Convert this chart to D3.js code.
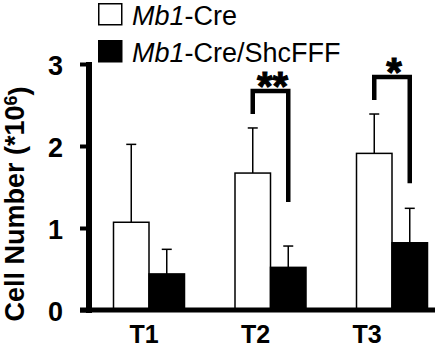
<!DOCTYPE html>
<html lang="en">
<head>
    <meta charset="UTF-8">
    <title>Cell Number T1-T3</title>
    <script src="https://d3js.org/d3.v7.min.js"></script>
    <style>
        body { margin: 0; background: #fff; }
        svg { display: block; font-family: "Liberation Sans", Arial, Helvetica, sans-serif; }
        .axis-label { font-weight: bold; font-size: 26px; fill: #000; }
        .legend-text { font-size: 27px; fill: #000; }
    </style>
</head>
<body>

<svg width="440" height="349"></svg>

<script>
    // data (cell number, *10^6)
    const categories = ["T1", "T2", "T3"];
    const series = ["Mb1-Cre", "Mb1-Cre/ShcFFF"];
    const ctrlMean = [1.07, 1.67, 1.91];
    const ctrlSd = [0.95, 0.55, 0.48];
    const mutMean = [0.44, 0.52, 0.82];
    const mutSd = [0.30, 0.26, 0.42];
    const yTicks = [0, 1, 2, 3];
    const signif = [null, "**", "*"];

    const svg = d3.select("svg");

    const y = d3.scaleLinear().domain([0, 3]).range([310, 64]);
    // group centres and bar offsets inside a group
    const xGroup = d3.scalePoint().domain(categories).range([149, 392]);
    const xBar = d3.scaleBand().domain(series).range([-35.5, 35.5]);
    // tick labels sit a little off the group centres in the original
    const xLabel = d3.scalePoint().domain(categories).range([144, 367]);

    const rows = categories.map((c, i) => [
        {cat: c, s: series[0], mean: ctrlMean[i], sd: ctrlSd[i]},
        {cat: c, s: series[1], mean: mutMean[i], sd: mutSd[i]}
    ]).flat();

    // y axis
    const yAxis = svg.append("g")
        .attr("transform", "translate(89,0)")
        .call(d3.axisLeft(y).tickValues(yTicks).tickFormat(d3.format("d"))
            .tickSizeInner(9).tickSizeOuter(0).tickPadding(17));
    yAxis.select(".domain").attr("stroke", "#000").attr("stroke-width", 6)
        .attr("d", `M0,${y(3) - 2}V${y(0) + 3}`);
    yAxis.selectAll(".tick line").attr("stroke", "#000").attr("stroke-width", 4);
    yAxis.selectAll(".tick text")
        .attr("class", "axis-label")
        .style("font-size", "27px")
        .attr("dy", "0.38em");

    // bars
    svg.append("g").selectAll("rect")
        .data(rows)
        .join("rect")
        .attr("x", d => xGroup(d.cat) + xBar(d.s))
        .attr("y", d => y(d.mean))
        .attr("width", xBar.bandwidth())
        .attr("height", d => y(0) - y(d.mean))
        .attr("fill", d => d.s === series[0] ? "#fff" : "#000")
        .attr("stroke", "#000")
        .attr("stroke-width", 1.5);

    // upper error bars
    const err = svg.append("g").attr("stroke", "#000").attr("stroke-width", 1.5);
    const bx = d => xGroup(d.cat) + xBar(d.s) + xBar.bandwidth() / 2;
    err.selectAll("line.v").data(rows).join("line").attr("class", "v")
        .attr("x1", bx).attr("x2", bx)
        .attr("y1", d => y(d.mean)).attr("y2", d => y(d.mean + d.sd));
    err.selectAll("line.cap").data(rows).join("line").attr("class", "cap")
        .attr("x1", d => bx(d) - 5).attr("x2", d => bx(d) + 5)
        .attr("y1", d => y(d.mean + d.sd)).attr("y2", d => y(d.mean + d.sd));

    // x axis baseline
    svg.append("line")
        .attr("x1", 80).attr("x2", 435)
        .attr("y1", y(0)).attr("y2", y(0))
        .attr("stroke", "#000").attr("stroke-width", 5);

    svg.append("g").selectAll("text")
        .data(categories)
        .join("text")
        .attr("class", "axis-label")
        .style("font-size", "25px")
        .attr("x", d => xLabel(d))
        .attr("y", 343)
        .attr("text-anchor", "middle")
        .text(d => d);

    // significance brackets
    const sig = categories.map((c, i) => ({cat: c, mark: signif[i], i}))
        .filter(d => d.mark);
    sig.forEach(d => {
        const i = d.i;
        const xl = xGroup(d.cat) + xBar(series[0]) + xBar.bandwidth() / 2;
        const xr = xGroup(d.cat) + xBar(series[1]) + xBar.bandwidth() / 2;
        const top = y(ctrlMean[i] + ctrlSd[i]) - 37;
        const leftEnd = y(ctrlMean[i] + ctrlSd[i]) - 14;
        const rightEnd = y(mutMean[i] + mutSd[i]) - (i === 1 ? 44 : 25);
        svg.append("path")
            .attr("d", `M${xl},${leftEnd}V${top}H${xr}V${rightEnd}`)
            .attr("fill", "none")
            .attr("stroke", "#000")
            .attr("stroke-width", 4.5);
        svg.append("text")
            .attr("x", (xl + xr) / 2 + 2)
            .attr("y", top + 9)
            .attr("text-anchor", "middle")
            .style("font-weight", "bold")
            .style("font-size", "40px")
            .attr("stroke", "#000")
            .attr("stroke-width", 1)
            .text(d.mark);
    });

    // y axis title
    const title = svg.append("text")
        .attr("class", "axis-label")
        .attr("transform", "translate(24,204) rotate(-90)")
        .attr("text-anchor", "middle")
        .style("font-size", "27px");
    title.append("tspan").text("Cell Number (*10");
    title.append("tspan").attr("dy", "-0.4em").style("font-size", "18px").text("6");
    title.append("tspan").attr("dy", "0.4em").text(")");

    // legend
    const legend = svg.append("g").selectAll("g")
        .data(series)
        .join("g")
        .attr("transform", (d, i) => `translate(98,${3 + i * 37})`);
    legend.append("rect")
        .attr("x", 0.75).attr("y", 0.75)
        .attr("width", 23).attr("height", 21)
        .attr("fill", (d, i) => i === 0 ? "#fff" : "#000")
        .attr("stroke", "#000").attr("stroke-width", 1.5);
    const lt = legend.append("text")
        .attr("class", "legend-text")
        .attr("x", 34).attr("y", 22);
    lt.append("tspan").style("font-style", "italic").text("Mb1");
    lt.append("tspan").text(d => d.slice(3));
</script>

</body>
</html>
